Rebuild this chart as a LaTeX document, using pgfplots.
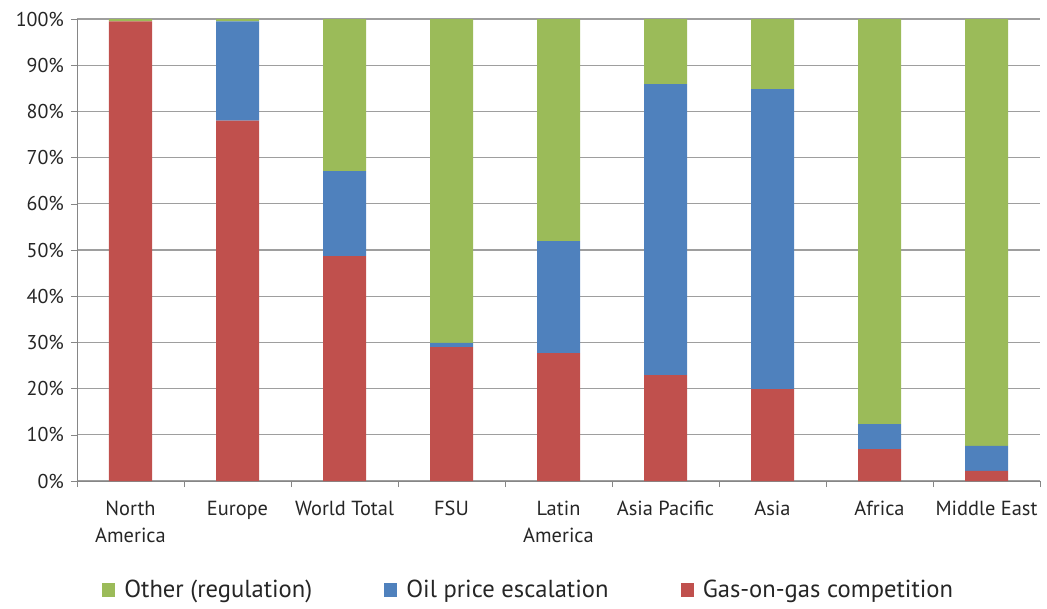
\documentclass[border=0pt]{standalone}
\usepackage{pgfplots}
\pgfplotsset{compat=1.18}
\usepackage{fontspec}
\setmainfont{PT Sans}
\definecolor{gasred}{HTML}{C0504D}
\definecolor{oilblue}{HTML}{4F81BD}
\definecolor{othgreen}{HTML}{9BBB59}
\definecolor{axgray}{HTML}{868686}
\definecolor{txt}{HTML}{262626}
\begin{document}
\begin{tikzpicture}
\begin{axis}[
    scale only axis,
    width=481.5pt, height=231pt,
    ybar stacked,
    bar width=21.5pt,
    xmin=-0.5, xmax=8.5,
    ymin=0, ymax=100,
    xtick={0,...,8},
    xticklabels={North\\America, Europe, World Total, FSU, Latin\\America, Asia Pacific, Asia, Africa, Middle East},
    xticklabel style={align=center, font=\fontsize{10.2}{13.5}\selectfont, text=txt, yshift=-3.5pt},
    major x tick style={draw=none},
    minor xtick={-0.5,0.5,...,8.5},
    minor x tick style={axgray},
    minor tick length=3pt,
    tick align=outside,
    ytick={0,10,...,100},
    yticklabel={\pgfmathprintnumber{\tick}\%},
    yticklabel style={font=\fontsize{10}{12}\selectfont, text=txt},
    /pgf/number format/assume math mode=true,
    major y tick style={axgray},
    major tick length=3pt,
    ymajorgrids=true,
    grid style={axgray!80, line width=0.6pt},
    axis line style={axgray},
    axis x line*=bottom,
    axis y line*=left,
    tick pos=left,
    reverse legend,
    legend columns=3,
    legend style={at={(0.47,-0.236)}, anchor=center, draw=none,
        font=\fontsize{12.3}{14}\selectfont, text=txt,
        /tikz/every odd column/.append style={column sep=2.5pt},
        /tikz/every even column/.append style={column sep=34pt}},
    legend image code/.code={\fill[#1] (0pt,-3.3pt) rectangle (6.6pt,3.3pt);},
]
\addplot[fill=gasred, draw=none] coordinates {
  (0,99.5) (1,78.0) (2,48.7) (3,29.0) (4,27.7) (5,22.9) (6,19.9) (7,6.9) (8,2.2)};
\addplot[fill=oilblue, draw=none] coordinates {
  (0,0.0) (1,21.5) (2,18.4) (3,0.9) (4,24.2) (5,63.0) (6,64.9) (7,5.4) (8,5.4)};
\addplot[fill=othgreen, draw=none] coordinates {
  (0,0.5) (1,0.5) (2,32.9) (3,70.1) (4,48.1) (5,14.1) (6,15.2) (7,87.7) (8,92.4)};
\legend{Gas-on-gas competition, Oil price escalation, Other (regulation)}
\end{axis}
\path ([xshift=-38.5pt,yshift=-62.5pt]current axis.south west) rectangle ([xshift=3.5pt,yshift=9.5pt]current axis.north east);
\end{tikzpicture}
\end{document}
